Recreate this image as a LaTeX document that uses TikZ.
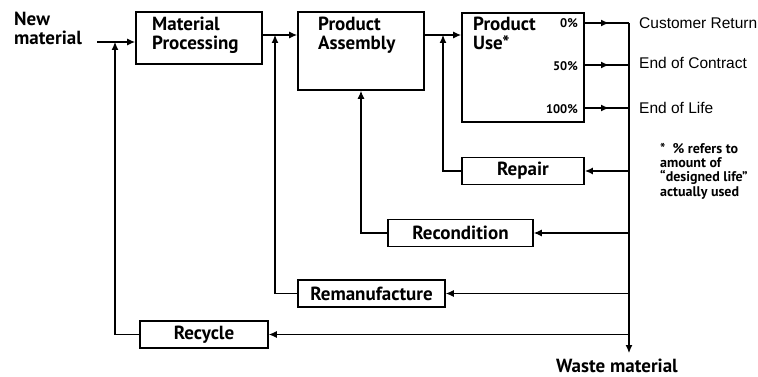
\documentclass[tikz,border=0pt]{standalone}
\usepackage{fontspec}
\setmainfont{PT Sans}
\newfontfamily\plainsans{Liberation Sans}
\usetikzlibrary{arrows.meta,decorations.markings}

\begin{document}
\begin{tikzpicture}[x=1pt,y=-1pt,
  box/.style={draw, line width=1.6pt, fill=white, inner sep=0pt},
  lbl/.style={font=\fontsize{19}{19}\selectfont\bfseries, align=left, inner sep=0pt},
  pct/.style={font=\fontsize{12.5}{12.5}\selectfont\bfseries, inner sep=0pt},
  outlbl/.style={font=\plainsans\fontsize{15.5}{15.5}\selectfont, inner sep=0pt, anchor=west},
  note/.style={font=\fontsize{14}{14.2}\selectfont\bfseries, align=left, inner sep=0pt},
  tipstyle/.style={-{Latex[length=8pt,width=7pt]}},
  route/.style={line width=1.1pt},
  flow/.style={line width=1.3pt, tipstyle},
  midtip/.style={line width=1.8pt, postaction={decorate},
    decoration={markings, mark=at position 0.55 with {\arrow{Latex[length=8pt,width=7pt]}}}}
]
\useasboundingbox (0,0) rectangle (758,377);

% process boxes
\node[box, minimum width=126pt, minimum height=52pt] (mp) at (199,38) {};
\node[box, minimum width=126pt, minimum height=78pt] (pa) at (361,51) {};
\node[box, minimum width=122pt, minimum height=109pt] (pu) at (523,67.5) {};

% recovery boxes
\node[box, minimum width=122pt, minimum height=27pt, lbl] (repair) at (523,171) {Repair};
\node[box, minimum width=145pt, minimum height=27pt, lbl] (recond) at (460.5,233) {Recondition};
\node[box, minimum width=147pt, minimum height=27pt, lbl] (reman) at (371.5,293.5) {Remanufacture};
\node[box, minimum width=128pt, minimum height=27pt, lbl] (recycle) at (204,334.5) {Recycle};

% box texts
\node[lbl, anchor=north west] (mptxt) at (152,17) {Material\\Processing};
\node[lbl, anchor=north west] (patxt) at (318,17) {Product\\Assembly};
\node[lbl, anchor=north west] (putxt) at (473,17) {Product\\Use*};
\node[pct, anchor=base east] (p0) at (578,28) {0\%};
\node[pct, anchor=base east] (p50) at (578,71) {50\%};
\node[pct, anchor=base east] (p100) at (578,114) {100\%};

% input label
\node[lbl, anchor=north west] (newmat) at (14,12) {New\\material};
\coordinate (nmstart) at (97,42);

% junction points on the forward flow
\coordinate (j1) at (115,42);
\coordinate (j2) at (275,35);
\coordinate (j3) at (443,35);

% forward flow
\draw[flow] (nmstart) -- (mp.west |- nmstart);
\draw[flow] (mp.east |- j2) -- (pa.west |- j2);
\draw[flow] (pa.east |- j3) -- (pu.west |- j3);

% end-of-use bus
\coordinate (b0) at (629,23);
\coordinate (b50) at (629,65);
\coordinate (b100) at (629,108);
\coordinate (bend) at (629,353);
\draw[midtip] (pu.east |- b0) -- (b0);
\draw[midtip] (pu.east |- b50) -- (b50);
\draw[midtip] (pu.east |- b100) -- (b100);
\draw[route, tipstyle] (b0) -- (bend);

\node[outlbl] (cr) at (639,23) {Customer Return};
\node[outlbl] (eoc) at (639,63) {End of Contract};
\node[outlbl] (eol) at (639,108) {End of Life};

\node[lbl, anchor=base] (waste) at (617,372) {Waste material};

\node[note, anchor=north west] (foot) at (660,143)
  {*\ \ \% refers to\\amount of\\``designed life''\\actually used};

% returns from the bus
\draw[line width=1.6pt, tipstyle] (b0 |- repair) -- (repair.east);
\draw[route, tipstyle] (b0 |- recond) -- (recond.east);
\draw[route, tipstyle] (b0 |- reman) -- (reman.east);
\draw[route, tipstyle] (b0 |- recycle) -- (recycle.east);

% loops back into the forward flow
\draw[route, tipstyle] (repair.west) -- (j3 |- repair.west) -- (j3);
\draw[route, tipstyle] (recond.west) -- (pa.south |- recond.west) -- (pa.south);
\draw[route, tipstyle] (reman.west) -- (j2 |- reman.west) -- (j2);
\draw[route, tipstyle] (recycle.west) -- (j1 |- recycle.west) -- (j1);
\end{tikzpicture}
\end{document}
